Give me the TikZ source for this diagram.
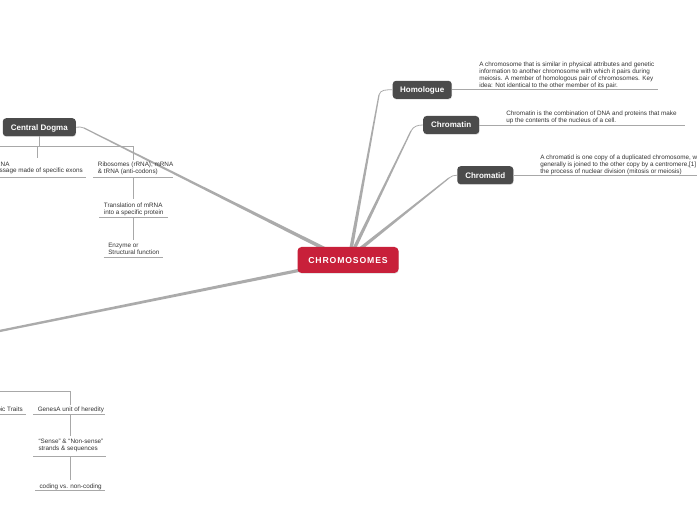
\documentclass[tikz,border=0pt]{standalone}
\usepackage{fontspec}
\setmainfont{Liberation Sans}
\newfontfamily\chromfont[LetterSpace=10]{Liberation Sans}
\usetikzlibrary{calc,shadows}
\definecolor{nodegray}{HTML}{4B4B4B}
\definecolor{chrred}{HTML}{C8203A}
\definecolor{mainline}{HTML}{ABABAB}
\definecolor{subline}{HTML}{A8A8A8}
\definecolor{txt}{HTML}{333333}
\newcommand\mytaper[4]{\fill[mainline] ($(#1)!#3!90:(#2)$) -- ($(#2)!#4!-90:(#1)$) -- ($(#2)!#4!90:(#1)$) -- ($(#1)!#3!-90:(#2)$) -- cycle;}
\tikzset{
  topic/.style={fill=nodegray, text=white, font=\bfseries\fontsize{6}{7}\selectfont,
    rounded corners=2.5pt, minimum height=13.5pt, inner sep=0pt,
    text height=4.3pt, text depth=0pt,
    drop shadow={opacity=0.25, shadow xshift=0.3pt, shadow yshift=-0.6pt}},
  central/.style={fill=chrred, text=white, font=\chromfont\bfseries\fontsize{6.5}{7}\selectfont,
    rounded corners=3pt, minimum width=75.75pt, minimum height=19.5pt, inner sep=0pt,
    text height=4.7pt, text depth=0pt,
    drop shadow={opacity=0.2, shadow xshift=0.3pt, shadow yshift=-0.6pt}},
  desc/.style={font=\fontsize{4.75}{5.2}\selectfont, align=left, inner sep=0pt, text=txt, anchor=north west},
  descR/.style={desc, anchor=north east},
  uline/.style={draw=subline, line width=0.55pt},
  thinlink/.style={draw=mainline, line width=0.6pt},
}
\begin{document}
\begin{tikzpicture}[x=0.75pt, y=-0.75pt]
\useasboundingbox (0,0) rectangle (697,520);

% ---------- main connectors ----------
\coordinate (aHom) at (351,249);
\coordinate (bHom) at (379,95);
\coordinate (aChm) at (354,249);
\coordinate (bChm) at (411,131);
\coordinate (aChd) at (360,249);
\coordinate (bChd) at (449,178);
\coordinate (aCd) at (327,250);
\coordinate (bCd) at (84,128);
\coordinate (aL) at (301,270);
\coordinate (bL) at (-40,339);

\mytaper{aHom}{bHom}{1.3pt}{0.45pt}
\mytaper{aChm}{bChm}{1.3pt}{0.45pt}
\mytaper{aChd}{bChd}{1.3pt}{0.45pt}
\mytaper{aCd}{bCd}{1.4pt}{0.45pt}
\mytaper{aL}{bL}{1.2pt}{0.8pt}

% ---------- nodes ----------
\node[central] (chr) at (348,260) {CHROMOSOMES};
\node[topic, minimum width=54.75pt] (cd) at (39.3,127.2) {Central Dogma};
\node[topic, minimum width=44.25pt] (hom) at (422.2,89.8) {Homologue};
\node[topic, minimum width=42pt] (chm) at (451.2,125) {Chromatin};
\node[topic, minimum width=42pt] (chd) at (485.3,175.2) {Chromatid};

\draw[thinlink] (bHom) to[out=80, in=180] (hom.west);
\draw[thinlink] (bChm) to[out=64, in=180] (chm.west);
\draw[thinlink] (bChd) to[out=38, in=180] (chd.west);
\draw[thinlink] (bCd) to[out=153, in=0] (cd.east);

% ---------- descriptions ----------
\coordinate (homU) at (658,89.8);
\draw[uline] (hom.east) -- (homU);
\node[desc] (homT) at (479,61.4) {A chromosome that is similar in physical attributes and genetic\\information to another chromosome with which it pairs during\\meiosis. A member of homologous pair of chromosomes. Key\\idea: Not identical to the other member of its pair.};

\coordinate (chmU) at (685,125);
\draw[uline] (chm.east) -- (chmU);
\node[desc] (chmT) at (506,110.4) {Chromatin is the combination of DNA and proteins that make\\up the contents of the nucleus of a cell.};

\coordinate (chdU) at (700,175.2);
\draw[uline] (chd.east) -- (chdU);
\node[desc] (chdT) at (540,154.8) {A chromatid is one copy of a duplicated chromosome, which\\generally is joined to the other copy by a centromere,[1] for\\the process of nuclear division (mitosis or meiosis)};

% ---------- Central Dogma subtree ----------
\coordinate (cdBar) at (39.3,146);
\coordinate (barL) at (-5,146);
\coordinate (barR) at (133,146);
\coordinate (ribTop) at (133,160);
\coordinate (mBar) at (37.5,146);
\coordinate (mTop) at (37.5,158);
\draw[uline] (cd.south) -- (cdBar);
\draw[uline] (barL) -- (barR) -- (ribTop);
\draw[uline] (mBar) -- (mTop);

\node[descR] (mrna) at (83,161.4) {mRNA\\message made of specific exons};
\coordinate (mU1) at (-5,177);
\coordinate (mU2) at (86,177);
\draw[uline] (mU1) -- (mU2);

\node[desc] (rib) at (97.7,161.4) {Ribosomes (rRNA), mRNA\\\& tRNA (anti-codons)};
\coordinate (rU1) at (93,177);
\coordinate (rU2) at (173,177);
\coordinate (rMid) at (133,177);
\coordinate (tTop) at (133,199);
\draw[uline] (rU1) -- (rU2);
\draw[uline] (rMid) -- (tTop);

\node[desc] (trans) at (103.7,202.8) {Translation of mRNA\\into a specific protein};
\coordinate (tU1) at (99.3,217.7);
\coordinate (tU2) at (167.7,217.7);
\coordinate (tMid) at (133,217.7);
\coordinate (eTop) at (133,240);
\draw[uline] (tU1) -- (tU2);
\draw[uline] (tMid) -- (eTop);

\node[desc] (enz) at (108,243.1) {Enzyme or\\Structural function};
\coordinate (eU1) at (103.5,257.7);
\coordinate (eU2) at (163,257.7);
\draw[uline] (eU1) -- (eU2);

% ---------- lower-left subtree ----------
\coordinate (gBarL) at (-5,391.5);
\coordinate (gBarR) at (70,391.5);
\coordinate (gTop) at (70,405);
\draw[uline] (gBarL) -- (gBarR) -- (gTop);

\node[descR] (phen) at (23,406.8) {Phenotypic Traits};
\coordinate (pU1) at (-5,414.3);
\coordinate (pU2) at (26,414.3);
\draw[uline] (pU1) -- (pU2);

\node[desc] (genes) at (37.5,406.8) {GenesA unit of heredity};
\coordinate (gU1) at (33,414.3);
\coordinate (gU2) at (105,414.3);
\coordinate (gMid) at (70,414.3);
\coordinate (sTop) at (70,436);
\draw[uline] (gU1) -- (gU2);
\draw[uline] (gMid) -- (sTop);

\node[desc] (sense) at (38.3,439.3) {“Sense” \& “Non-sense”\\strands \& sequences};
\coordinate (sU1) at (33,456.5);
\coordinate (sU2) at (106,456.5);
\coordinate (sMid) at (70,456.5);
\coordinate (cTop) at (70,480);
\draw[uline] (sU1) -- (sU2);
\draw[uline] (sMid) -- (cTop);

\node[desc] (coding) at (39.3,483.5) {coding vs. non-coding};
\coordinate (cU1) at (35,490);
\coordinate (cU2) at (105,490);
\draw[uline] (cU1) -- (cU2);
\end{tikzpicture}
\end{document}
